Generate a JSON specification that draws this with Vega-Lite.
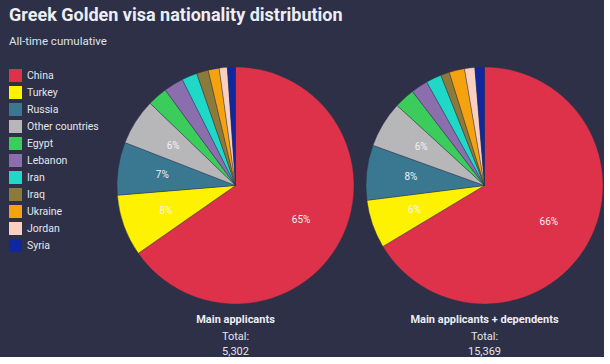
{
  "$schema": "https://vega.github.io/schema/vega-lite/v6.json",
  "background": "#2d3046",
  "padding": {"left": 9, "top": 6, "right": 0, "bottom": 0},
  "title": {
    "text": "Greek Golden visa nationality distribution",
    "subtitle": "All-time cumulative",
    "anchor": "start",
    "frame": "bounds",
    "font": "Roboto",
    "fontSize": 18,
    "fontWeight": "bold",
    "color": "#eceef4",
    "subtitleFont": "Roboto",
    "subtitleFontSize": 11.5,
    "subtitleColor": "#dfe2ea",
    "subtitlePadding": 11,
    "offset": 19
  },
  "data": {
    "values": [
      {"group": "A", "country": "China", "idx": 1, "pct": 65.3, "label": "65%"},
      {"group": "A", "country": "Turkey", "idx": 2, "pct": 8.4, "label": "8%"},
      {"group": "A", "country": "Russia", "idx": 3, "pct": 7.2, "label": "7%"},
      {"group": "A", "country": "Other countries", "idx": 4, "pct": 6.3, "label": "6%"},
      {"group": "A", "country": "Egypt", "idx": 5, "pct": 2.7, "label": ""},
      {"group": "A", "country": "Lebanon", "idx": 6, "pct": 2.7, "label": ""},
      {"group": "A", "country": "Iran", "idx": 7, "pct": 2.1, "label": ""},
      {"group": "A", "country": "Iraq", "idx": 8, "pct": 1.6, "label": ""},
      {"group": "A", "country": "Ukraine", "idx": 9, "pct": 1.5, "label": ""},
      {"group": "A", "country": "Jordan", "idx": 10, "pct": 1.1, "label": ""},
      {"group": "A", "country": "Syria", "idx": 11, "pct": 1.1, "label": ""},
      {"group": "B", "country": "China", "idx": 1, "pct": 66.4, "label": "66%"},
      {"group": "B", "country": "Turkey", "idx": 2, "pct": 6.6, "label": "6%"},
      {"group": "B", "country": "Russia", "idx": 3, "pct": 7.5, "label": "8%"},
      {"group": "B", "country": "Other countries", "idx": 4, "pct": 6.3, "label": "6%"},
      {"group": "B", "country": "Egypt", "idx": 5, "pct": 2.8, "label": ""},
      {"group": "B", "country": "Lebanon", "idx": 6, "pct": 2.3, "label": ""},
      {"group": "B", "country": "Iran", "idx": 7, "pct": 2.1, "label": ""},
      {"group": "B", "country": "Iraq", "idx": 8, "pct": 1.2, "label": ""},
      {"group": "B", "country": "Ukraine", "idx": 9, "pct": 2.1, "label": ""},
      {"group": "B", "country": "Jordan", "idx": 10, "pct": 1.4, "label": ""},
      {"group": "B", "country": "Syria", "idx": 11, "pct": 1.3, "label": ""}
    ]
  },
  "spacing": 10,
  "hconcat": [
    {
      "width": 237,
      "height": 237,
      "title": {
        "text": "Main applicants",
        "subtitle": ["Total:", "5,302"],
        "orient": "bottom",
        "anchor": "middle",
        "font": "Roboto",
        "fontSize": 11,
        "fontWeight": "bold",
        "color": "#eceef4",
        "subtitleFont": "Roboto",
        "subtitleFontSize": 11,
        "subtitleColor": "#e3e6ee",
        "subtitleLineHeight": 15,
        "subtitlePadding": 6,
        "offset": 9
      },
      "transform": [{"filter": "datum.group === 'A'"}],
      "layer": [
        {
          "mark": {"type": "arc", "stroke": "#2d3046", "strokeWidth": 0.4},
          "encoding": {
            "theta": {"field": "pct", "type": "quantitative", "stack": true},
            "order": {"field": "idx", "type": "quantitative"},
            "color": {
              "field": "country",
              "type": "nominal",
              "scale": {
                "domain": ["China", "Turkey", "Russia", "Other countries", "Egypt", "Lebanon", "Iran", "Iraq", "Ukraine", "Jordan", "Syria"],
                "range": ["#dd3249", "#fff200", "#3a7791", "#b7b7ba", "#3ccc5c", "#8a6eae", "#1fd8c8", "#8b7a3a", "#f5a20f", "#f8cfc0", "#10279d"]
              },
              "legend": {
                "title": null,
                "orient": "none",
                "legendX": -108,
                "legendY": 2,
                "symbolType": "square",
                "symbolSize": 169,
                "symbolStrokeWidth": 0,
                "symbolOpacity": 1,
                "labelFont": "Roboto",
                "labelFontSize": 10.5,
                "labelColor": "#e3e6ee",
                "labelOffset": 5,
                "rowPadding": 4,
                "padding": 0
              }
            }
          }
        },
        {
          "mark": {"type": "text", "radius": 74, "font": "Roboto", "fontSize": 10, "color": "#f2f2f2"},
          "encoding": {
            "theta": {"field": "pct", "type": "quantitative", "stack": true},
            "order": {"field": "idx", "type": "quantitative"},
            "text": {"field": "label", "type": "nominal"}
          }
        }
      ]
    },
    {
      "width": 237,
      "height": 237,
      "title": {
        "text": "Main applicants + dependents",
        "subtitle": ["Total:", "15,369"],
        "orient": "bottom",
        "anchor": "middle",
        "font": "Roboto",
        "fontSize": 11,
        "fontWeight": "bold",
        "color": "#eceef4",
        "subtitleFont": "Roboto",
        "subtitleFontSize": 11,
        "subtitleColor": "#e3e6ee",
        "subtitleLineHeight": 15,
        "subtitlePadding": 6,
        "offset": 9
      },
      "transform": [{"filter": "datum.group === 'B'"}],
      "layer": [
        {
          "mark": {"type": "arc", "stroke": "#2d3046", "strokeWidth": 0.4},
          "encoding": {
            "theta": {"field": "pct", "type": "quantitative", "stack": true},
            "order": {"field": "idx", "type": "quantitative"},
            "color": {
              "field": "country",
              "type": "nominal"
            }
          }
        },
        {
          "mark": {"type": "text", "radius": 74, "font": "Roboto", "fontSize": 10, "color": "#f2f2f2"},
          "encoding": {
            "theta": {"field": "pct", "type": "quantitative", "stack": true},
            "order": {"field": "idx", "type": "quantitative"},
            "text": {"field": "label", "type": "nominal"}
          }
        }
      ]
    }
  ],
  "config": {
    "view": {"stroke": null}
  }
}
